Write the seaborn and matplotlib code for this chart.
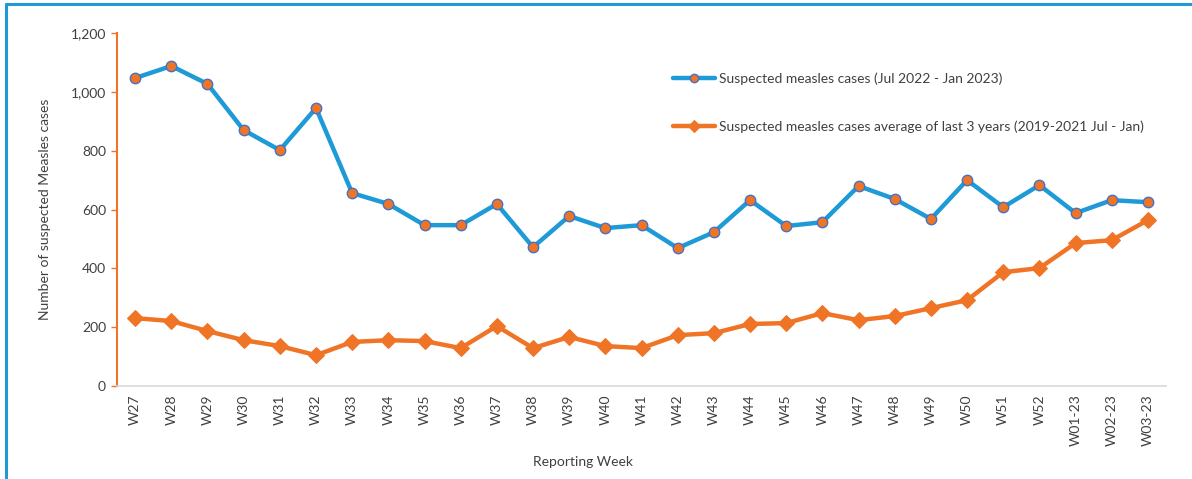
import matplotlib
matplotlib.use("Agg")
import matplotlib.pyplot as plt
import seaborn as sns
from matplotlib.lines import Line2D
from matplotlib.ticker import FuncFormatter

WEEKS = ["W27", "W28", "W29", "W30", "W31", "W32", "W33", "W34", "W35", "W36",
         "W37", "W38", "W39", "W40", "W41", "W42", "W43", "W44", "W45", "W46",
         "W47", "W48", "W49", "W50", "W51", "W52", "W01-23", "W02-23", "W03-23"]
CASES_2022 = [1047, 1088, 1027, 870, 802, 945, 656, 619, 547, 547,
              619, 472, 578, 537, 547, 469, 523, 632, 544, 557,
              680, 636, 568, 700, 608, 683, 588, 632, 625]
AVG_3YR = [231, 221, 187, 156, 136, 105, 150, 156, 153, 129,
           204, 129, 167, 136, 129, 173, 180, 211, 214, 248,
           224, 238, 265, 292, 387, 401, 486, 496, 564]

BLUE = "#1E9AD6"
ORANGE = "#F07426"
TEXT = "#404040"

sns.set_theme(style="white")
plt.rcParams["font.family"] = ["Lato", "DejaVu Sans"]

fig = plt.figure(figsize=(11.92, 4.79), dpi=100)
ax = fig.add_axes([0.0982, 0.194, 0.880, 0.737])

sns.lineplot(x=WEEKS, y=CASES_2022, sort=False, ax=ax, color=BLUE, linewidth=3.2,
             marker="o", markersize=7.5, markerfacecolor=ORANGE, markeredgecolor="#4472C4",
             markeredgewidth=1.0, label="Suspected measles cases (Jul 2022 - Jan 2023)")
sns.lineplot(x=WEEKS, y=AVG_3YR, sort=False, ax=ax, color=ORANGE, linewidth=3.2,
             marker="D", markersize=8, markerfacecolor=ORANGE, markeredgecolor=ORANGE,
             label="Suspected measles cases average of last 3 years (2019-2021 Jul - Jan)")

ax.set_xlim(-0.5, len(WEEKS) - 0.5)
ax.set_ylim(0, 1200)
ax.set_yticks(range(0, 1201, 200))
ax.yaxis.set_major_formatter(FuncFormatter(lambda v, _: f"{v:,.0f}"))
ax.tick_params(axis="y", length=4, width=1, color=ORANGE, labelsize=10, labelcolor=TEXT, left=True, pad=4)
ax.tick_params(axis="x", length=0, labelsize=10, labelcolor=TEXT, labelrotation=90, pad=6)

for side in ["top", "right"]:
    ax.spines[side].set_visible(False)
ax.spines["left"].set_color(ORANGE)
ax.spines["left"].set_linewidth(1.5)
ax.spines["bottom"].set_color("#D9D9D9")
ax.spines["bottom"].set_linewidth(1.2)

ax.set_ylabel("Number of suspected Measles cases", fontsize=10, color=TEXT, labelpad=14)
ax.set_xlabel("")
fig.text(0.489, 0.035, "Reporting Week", fontsize=10, color=TEXT, ha="center", va="center")

leg = ax.legend(loc="upper left", bbox_to_anchor=(0.525, 0.905), frameon=False, fontsize=10,
                labelspacing=2.6, handlelength=3.0, handletextpad=0.3, borderaxespad=0,
                markerscale=0.8)
for txt in leg.get_texts():
    txt.set_color(TEXT)

fig.add_artist(Line2D([0.005, 0.005], [0.0, 0.991], transform=fig.transFigure, color=BLUE, linewidth=2.2))
fig.add_artist(Line2D([0.005, 1.0], [0.991, 0.991], transform=fig.transFigure, color=BLUE, linewidth=2.2))

fig.savefig("out.png", dpi=100)
